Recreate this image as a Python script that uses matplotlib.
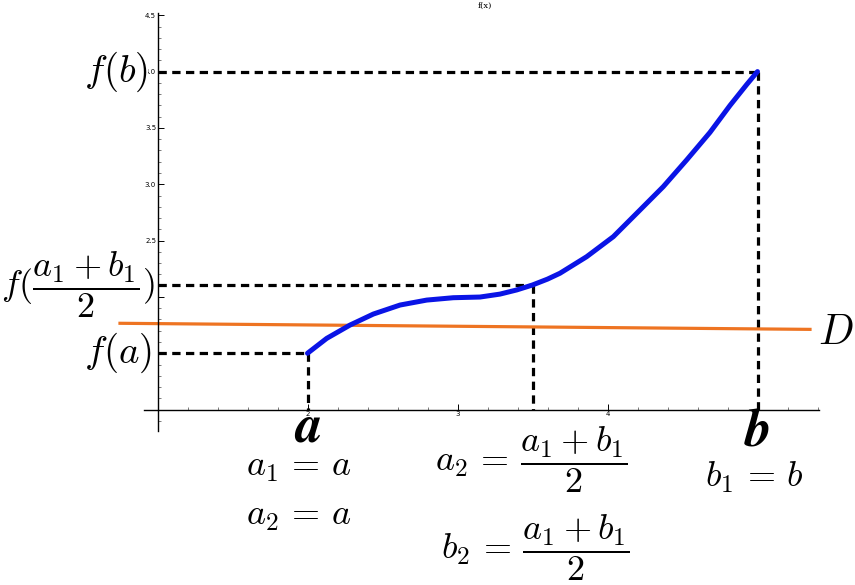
import numpy as np
import matplotlib
matplotlib.use('Agg')
import matplotlib.pyplot as plt
from matplotlib.ticker import MultipleLocator

plt.rcParams['mathtext.fontset'] = 'cm'

# curve f(x)
curve_x = [2.0, 2.128, 2.283, 2.439, 2.617, 2.795, 2.972, 3.15, 3.283, 3.395,
           3.5, 3.6, 3.683, 3.861, 4.039, 4.217, 4.372, 4.528, 4.683, 4.817,
           4.928, 5.0]
curve_y = [1.5, 1.632, 1.75, 1.848, 1.928, 1.972, 1.993, 1.999, 2.025, 2.062,
           2.106, 2.158, 2.21, 2.357, 2.535, 2.772, 2.979, 3.216, 3.46, 3.70,
           3.885, 4.0]

# the line D
line_x = [0.75, 5.35]
line_y = [1.766, 1.712]

a, b = 2.0, 5.0
mid = 3.5
fa, fmid, fb = 1.5, 2.106, 4.0

y_ticks = [1.5, 2.0, 2.5, 3.0, 3.5, 4.0, 4.5]
y_ticklabels = ['', '', '2.5', '3.0', '3.5', '4.0', '4.5']
x_ticks = [2, 3, 4]
x_ticklabels = ['2', '3', '4']

fig = plt.figure(figsize=(8.55, 5.85), dpi=100)
ax = fig.add_axes([144/855, 1-431/585, (819-144)/855, (431-13)/585])
ax.set_xlim(0.91, 5.41)
ax.set_ylim(0.81, 4.52)

ax.spines['left'].set_position(('data', 1))
ax.spines['bottom'].set_position(('data', 1))
ax.spines['top'].set_visible(False)
ax.spines['right'].set_visible(False)
for s in ['left', 'bottom']:
    ax.spines[s].set_linewidth(1.0)

ax.set_xticks(x_ticks)
ax.set_xticklabels(x_ticklabels)
ax.set_yticks(y_ticks)
ax.set_yticklabels(y_ticklabels)
ax.xaxis.set_minor_locator(MultipleLocator(0.2))
ax.yaxis.set_minor_locator(MultipleLocator(0.1))
ax.tick_params(which='major', direction='in', length=4, width=0.7, labelsize=5, pad=1)
ax.tick_params(which='minor', direction='in', length=2.5, width=0.6, color='#666666')

dash = dict(color='black', lw=2.3, linestyle=(0, (2.6, 1.7)))
ax.plot([1, b], [fb, fb], **dash)
ax.plot([b, b], [fb, 1], **dash)
ax.plot([1, mid], [fmid, fmid], **dash)
ax.plot([mid, mid], [fmid, 1], **dash)
ax.plot([1, a], [fa, fa], **dash)
ax.plot([a, a], [fa, 1], **dash)

ax.plot(line_x, line_y, color='#EE7422', lw=2.3, clip_on=False)
ax.plot(curve_x, curve_y, color='#0A14E6', lw=3.6, solid_joinstyle='round',
        solid_capstyle='round', zorder=5)

fs = 28
eq = 26
white = dict(facecolor='white', edgecolor='none', pad=0)
ax.text(0.937, fb, r'$f(b)$', fontsize=fs, ha='right', va='center', bbox=white)
ax.text(0.985, fmid, r'$f(\dfrac{a_1+b_1}{2})$', fontsize=26, ha='right', va='center')
ax.text(0.965, fa, r'$f(a)$', fontsize=fs, ha='right', va='center')
ax.text(a, 0.85, r'$\boldsymbol{a}$', fontsize=38, ha='center', va='center')
ax.text(b, 0.81, r'$\boldsymbol{b}$', fontsize=38, ha='center', va='center')
ax.text(1.94, 0.489, r'$a_1 \,=\, a$', fontsize=eq, ha='center', va='center')
ax.text(1.94, 0.054, r'$a_2 \,=\, a$', fontsize=eq, ha='center', va='center')
ax.text(3.49, 0.552, r'$a_2 \,=\, \dfrac{a_1+b_1}{2}$', fontsize=eq, ha='center', va='center')
ax.text(3.517, -0.23, r'$b_2 \,=\, \dfrac{a_1+b_1}{2}$', fontsize=eq, ha='center', va='center')
ax.text(4.977, 0.40, r'$b_1 \,=\, b$', fontsize=eq, ha='center', va='center')
ax.text(5.523, 1.688, r'$D$', fontsize=30, ha='center', va='center')

fig.text(485/855, 1-6/585, 'f(x)', fontsize=6, family='serif', ha='center', va='center')

fig.savefig('out.png', dpi=100)
